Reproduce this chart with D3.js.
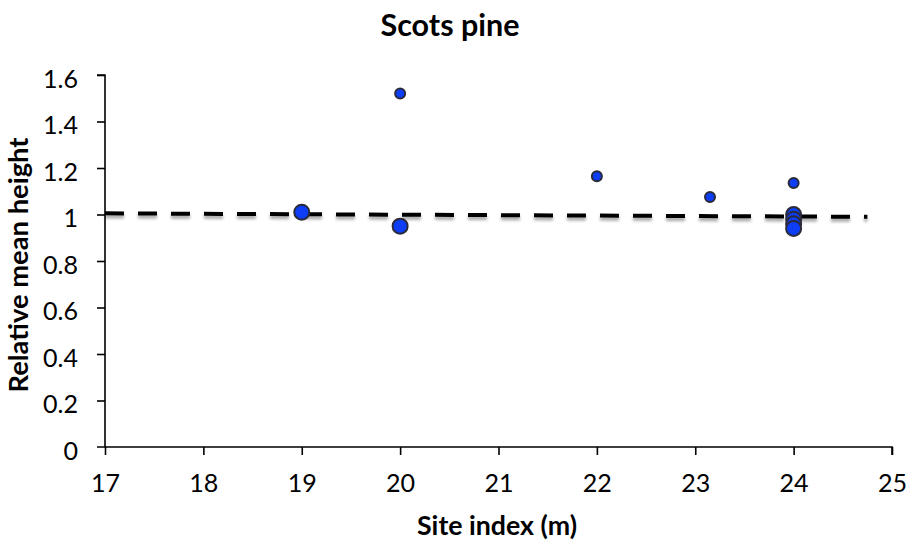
<!DOCTYPE html>
<html>
<head>
<meta charset="utf-8">
<script src="https://cdn.jsdelivr.net/npm/d3@7"></script>
<style>
  html, body { margin: 0; padding: 0; background: #fff; }
  svg { display: block; }
  text { font-family: Lato, "Open Sans", sans-serif; fill: #000; }
</style>
</head>
<body>
<svg id="chart" width="908" height="542"></svg>
<script>
// ---- data ----
const siteIndex = [19, 20, 20, 22, 23.15, 24, 24, 24, 24, 24];
const relHeight = [1.01, 1.52, 0.95, 1.165, 1.075, 1.135, 1.0, 0.98, 0.96, 0.94];
const plotWeight = [2, 1, 2, 1, 1, 1, 2, 2, 2, 2];
const trendX = [17, 24.75];
const trendY = [1.005, 0.99];
const xTicks = [17, 18, 19, 20, 21, 22, 23, 24, 25];
const yTicks = [0, 0.2, 0.4, 0.6, 0.8, 1, 1.2, 1.4, 1.6];
const titleText = "Scots pine";
const xLabel = "Site index (m)";
const yLabel = "Relative mean height";

const svg = d3.select("#chart");
const x = d3.scaleLinear().domain([17, 25]).range([105, 892]);
const y = d3.scaleLinear().domain([0, 1.6]).range([447, 75]);
const r = d3.scaleOrdinal().domain([1, 2]).range([5, 7.5]);

// fit a text element's font-size so its rendered width matches a target width
function fitWidth(sel, target) {
  const base = parseFloat(sel.style("font-size"));
  const w = sel.node().getComputedTextLength();
  if (w > 0) sel.style("font-size", (base * target / w).toFixed(2) + "px");
  return parseFloat(sel.style("font-size"));
}

const defs = svg.append("defs");
const f = defs.append("filter").attr("id", "shadow")
  .attr("x", "-5%").attr("y", "-100%").attr("width", "110%").attr("height", "400%");
f.append("feDropShadow").attr("dx", 0).attr("dy", 3).attr("stdDeviation", 1.8)
  .attr("flood-color", "#000").attr("flood-opacity", 0.35);
const f2 = defs.append("filter").attr("id", "soft")
  .attr("x", "-50%").attr("y", "-50%").attr("width", "200%").attr("height", "200%");
f2.append("feGaussianBlur").attr("stdDeviation", 0.6);

// title
const title = svg.append("text").attr("x", 450).attr("y", 36).attr("text-anchor", "middle")
  .style("font-size", "24px").style("font-weight", "bold").text(titleText);
fitWidth(title, 139);

// tick label size: "1.6" is ~35px wide in the reference
const probe = svg.append("text").style("font-size", "24px").text("1.6");
const tickSize = fitWidth(probe, 35);
probe.remove();

// axes
const yAxis = d3.axisLeft(y).tickValues(yTicks).tickSize(8).tickPadding(19)
  .tickFormat(d => d3.format("")(+d.toFixed(1)));
const gy = svg.append("g").attr("transform", `translate(${x(17)},0)`).call(yAxis);
gy.select(".domain").attr("d", `M-8,${y(1.6)}H0V${y(0)}`);
const xAxis = d3.axisBottom(x).tickValues(xTicks).tickSize(8).tickPadding(19).tickFormat(d3.format("d"));
const gx = svg.append("g").attr("transform", `translate(0,${y(0)})`).call(xAxis);
gx.select(".domain").attr("d", `M${x(17) - 8},0H${x(25)}V8`);
[gx, gy].forEach(g => {
  g.selectAll("path,line").attr("stroke", "#000").attr("stroke-width", 1.6);
  g.selectAll("text").style("font-size", tickSize + "px")
    .style("font-family", "Lato, 'Open Sans', sans-serif").attr("fill", "#000");
});
gx.selectAll("text").attr("y", 45).attr("dy", 0);
gy.selectAll("text").attr("y", 4);
gx.selectAll(".tick:first-child line").remove();
gy.selectAll(".tick line").filter(d => d === 0).remove();

// axis labels
const xl = svg.append("text").attr("x", 497).attr("y", 535).attr("text-anchor", "middle")
  .style("font-size", "22px").style("font-weight", "bold").text(xLabel);
fitWidth(xl, 160);
const yl = svg.append("text").attr("transform", `translate(28,${265}) rotate(-90)`).attr("text-anchor", "middle")
  .style("font-size", "22px").style("font-weight", "bold").text(yLabel);
fitWidth(yl, 255);

// trend line
svg.append("line")
  .attr("x1", x(trendX[0])).attr("y1", y(trendY[0]))
  .attr("x2", x(trendX[1])).attr("y2", y(trendY[1]))
  .attr("stroke", "#000").attr("stroke-width", 4)
  .attr("stroke-dasharray", "19,14")
  .attr("filter", "url(#shadow)");

// points
const pts = siteIndex.map((s, i) => ({ s, h: relHeight[i], w: plotWeight[i] }));
svg.append("g").selectAll("circle").data(pts).join("circle")
  .attr("cx", d => x(d.s)).attr("cy", d => y(d.h)).attr("r", d => r(d.w))
  .attr("fill", "#0b3cf5").attr("stroke", "#2a2a3a").attr("stroke-width", 2)
  .attr("filter", "url(#soft)");
</script>
</body>
</html>
